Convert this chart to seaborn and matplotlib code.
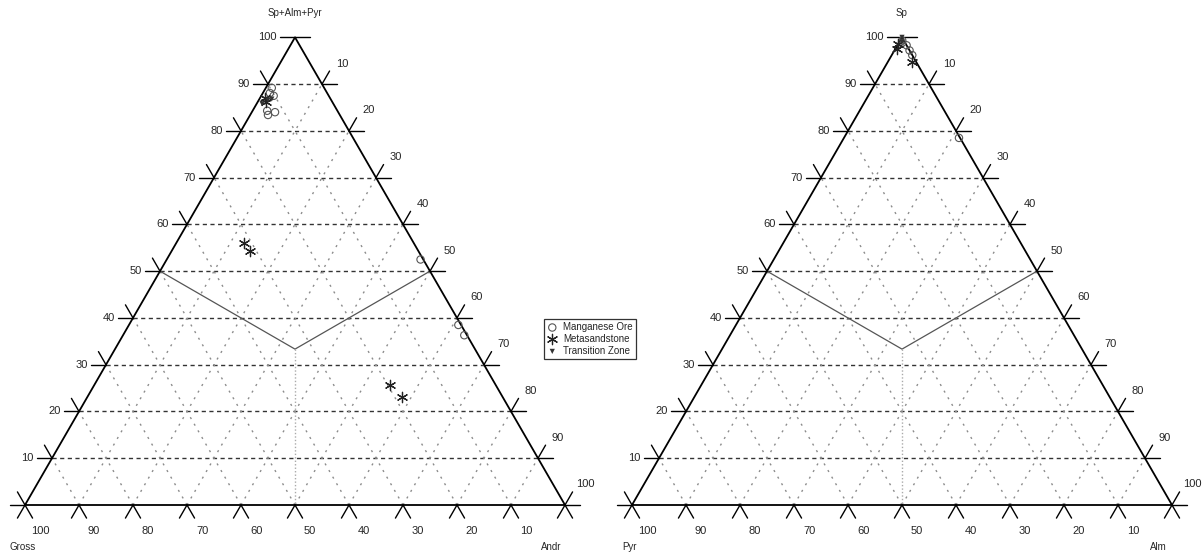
import numpy as np
import matplotlib
matplotlib.use("Agg")
import matplotlib.pyplot as plt
import seaborn as sns

# ---- data, in percent ----
# left diagram: Sp+Alm+Pyr (top) / Gross (bottom left) / Andr (bottom right)
ore_l_top = [89.2, 88.1, 87.5, 84.3, 84.0, 83.4, 52.5, 38.5, 36.3]
ore_l_andr = [1.1, 1.3, 2.3, 2.7, 4.3, 3.3, 47.0, 61.0, 63.2]
meta_l_top = [87.0, 86.2, 56.0, 54.3, 25.6, 23.1]
meta_l_andr = [0.9, 1.5, 12.6, 14.5, 54.8, 58.3]
trans_l_top = [86.6, 86.8, 85.8]
trans_l_andr = [1.7, 2.3, 1.0]

# right diagram: Sp (top) / Pyr (bottom left) / Alm (bottom right)
ore_r_top = [99.3, 98.3, 97.2, 96.2, 98.8, 78.5]
ore_r_alm = [0.4, 1.7, 2.8, 3.8, 0.6, 21.3]
meta_r_top = [98.5, 97.6, 94.7]
meta_r_alm = [0.0, 0.3, 4.5]
trans_r_top = [100.0, 99.0]
trans_r_alm = [0.0, 0.5]

tick_values = [10, 20, 30, 40, 50, 60, 70, 80, 90, 100]
groups = ["Manganese Ore", "Metasandstone", "Transition Zone"]

H = np.sqrt(3) / 2
TL = 0.028  # tick length


def to_xy(top, right):
    t = np.asarray(top) / 100
    r = np.asarray(right) / 100
    return r + t / 2, t * H


def draw_frame(ax, top_name, left_name, right_name):
    ax.plot([0, 1, 0.5, 0], [0, 0, H, 0], color="black", lw=1.3, zorder=3)
    for v in tick_values[:-1]:
        f = v / 100
        ax.plot([f / 2, 1 - f / 2], [f * H, f * H], color="#333333",
                lw=1.0, ls=(0, (3, 2.5)), zorder=1)
        ax.plot([f, (1 + f) / 2], [0, (1 - f) * H], color="#8c8c8c",
                lw=1.0, ls=(0, (1.5, 4)), zorder=1)
        ax.plot([f, f / 2], [0, f * H], color="#8c8c8c",
                lw=1.0, ls=(0, (1.5, 4)), zorder=1)

    # ticks: short extensions of the grid lines outside the triangle
    for v in [0] + tick_values:
        f = v / 100
        x, y = f / 2, f * H  # left edge
        ax.plot([x, x - TL], [y, y], color="black", lw=1.0)
        if v < 100:
            ax.plot([x, x - TL / 2], [y, y + TL * H], color="black", lw=1.0)
        x, y = (1 + f) / 2, (1 - f) * H  # right edge
        ax.plot([x, x + TL], [y, y], color="black", lw=1.0)
        if v > 0:
            ax.plot([x, x + TL / 2], [y, y + TL * H], color="black", lw=1.0)
        x = f  # bottom edge
        ax.plot([x, x - TL / 2], [0, -TL * H], color="black", lw=1.0)
        ax.plot([x, x + TL / 2], [0, -TL * H], color="black", lw=1.0)

    # tick labels
    fs = 8
    for v in tick_values:
        f = v / 100
        ax.text(f / 2 - TL - 0.006, f * H, str(v), ha="right", va="center", fontsize=fs)
        ax.text((1 + f) / 2 + 0.037, (1 - f) * H + 0.038, str(v),
                ha="center", va="center", fontsize=fs)
        ax.text(1 - f + 0.028, -0.048, str(v), ha="center", va="center", fontsize=fs)

    # field boundaries
    cx, cy = 0.5, H / 3
    ax.plot([0.25, cx, 0.75], [H / 2, cy, H / 2], color="#555555", lw=0.9, zorder=2)
    ax.plot([cx, cx], [cy, 0], color="#aaaaaa", lw=1.0, ls=(0, (1, 1.5)), zorder=2)

    ax.text(0.5, 0.912, top_name, ha="center", va="center", fontsize=7)
    ax.text(-0.005, -0.077, left_name, ha="center", va="center", fontsize=7)
    ax.text(0.975, -0.077, right_name, ha="center", va="center", fontsize=7)


def draw_points(ax, series):
    styles = [
        dict(marker="o", s=28, facecolor="none", edgecolor="#555555", linewidth=0.8),
        dict(marker=(6, 2, 0), s=55, color="#222222", linewidth=0.9),
        dict(marker="v", s=14, color="#333333", edgecolor="none"),
    ]
    for name, (top, right), st in zip(groups, series, styles):
        x, y = to_xy(top, right)
        sns.scatterplot(x=x, y=y, ax=ax, label=name, zorder=4, clip_on=False, **st)


sns.set_theme(style="white")
plt.rcParams["font.family"] = ["Liberation Sans", "DejaVu Sans"]

fig = plt.figure(figsize=(12.03, 5.53), dpi=100)
W, Hpx = 1203, 553
scale = 540  # pixels per unit side

ax1 = fig.add_axes([0, 0, 601.5 / W, 1])
ax1.set_xlim(-25 / scale, (601.5 - 25) / scale)
ax1.set_ylim(-48 / scale, 505 / scale)

ax2 = fig.add_axes([601.5 / W, 0, 601.5 / W, 1])
ax2.set_xlim((601.5 - 632) / scale, (1203 - 632) / scale)
ax2.set_ylim(-48 / scale, 505 / scale)

draw_frame(ax1, "Sp+Alm+Pyr", "Gross", "Andr")
draw_points(ax1, [(ore_l_top, ore_l_andr), (meta_l_top, meta_l_andr),
                  (trans_l_top, trans_l_andr)])

draw_frame(ax2, "Sp", "Pyr", "Alm")
draw_points(ax2, [(ore_r_top, ore_r_alm), (meta_r_top, meta_r_alm),
                  (trans_r_top, trans_r_alm)])

handles, labels = ax1.get_legend_handles_labels()
for ax in (ax1, ax2):
    if ax.get_legend() is not None:
        ax.get_legend().remove()
    ax.axis("off")

leg = fig.legend(handles, labels, loc="center", bbox_to_anchor=(590 / W, 1 - 339 / Hpx),
                 fontsize=7, frameon=True, fancybox=False, edgecolor="black",
                 borderpad=0.3, handlelength=1.0, handletextpad=0.6, labelspacing=0.2,
                 borderaxespad=0)
leg.get_frame().set_linewidth(0.9)

fig.savefig("out.png", dpi=100, facecolor="white")
